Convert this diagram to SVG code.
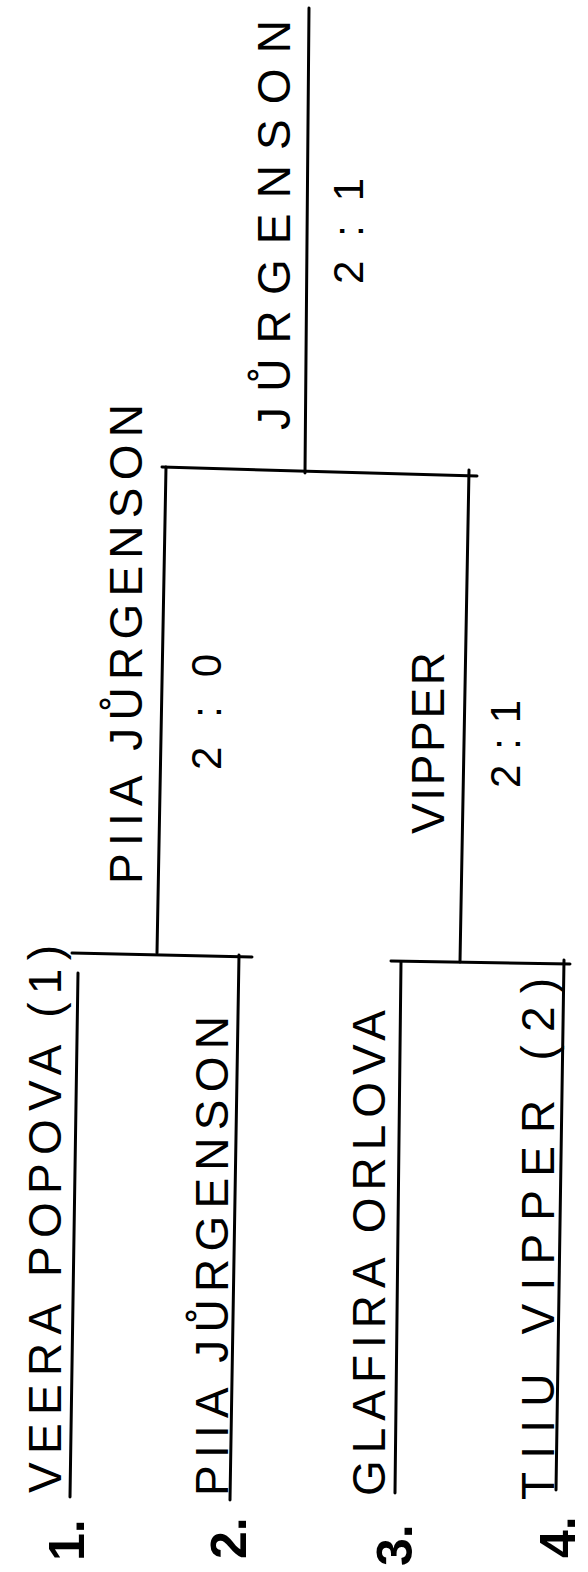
<svg xmlns="http://www.w3.org/2000/svg" width="588" height="1572" viewBox="0 0 588 1572">
<style>
.bg{fill:#ffffff}
.ln{stroke:#000;stroke-width:3;fill:none;stroke-linecap:round}
.nm{font-family:"Liberation Sans",Arial,sans-serif;font-size:46px;fill:#000}
.sc{font-family:"Liberation Sans",Arial,sans-serif;font-size:42px;fill:#000}
.no{font-family:"Liberation Sans",Arial,sans-serif;font-size:50px;font-weight:bold;fill:#000}
</style>
<rect class="bg" x="0" y="0" width="588" height="1572"/>
<g id="connectors">
  <path class="ln" d="M78,973 L70,1497"/>
  <path class="ln" d="M239,955 L230,1500"/>
  <path class="ln" d="M72,953 L252,957"/>
  <path class="ln" d="M401,962 L395,1493"/>
  <path class="ln" d="M564,960 L556,1490"/>
  <path class="ln" d="M391,961 L570,964"/>
  <path class="ln" d="M166,467 L157,953"/>
  <path class="ln" d="M469,470 L460,962"/>
  <path class="ln" d="M162,467 L477,476"/>
  <path class="ln" d="M309,8 L305,473"/>
</g>
<g id="seed1">
  <text class="nm" transform="translate(61,1493) rotate(-90)" textLength="548" lengthAdjust="spacing">VEERA POPOVA (1)</text>
  <text class="no" transform="translate(84,1561) rotate(-90)">1.</text>
</g>
<g id="seed2">
  <text class="nm" transform="translate(228,1496) rotate(-90)" textLength="480" lengthAdjust="spacing">PIIA JŮRGENSON</text>
  <text class="no" transform="translate(246,1559) rotate(-90)">2.</text>
</g>
<g id="seed3">
  <text class="nm" transform="translate(385,1496) rotate(-90)" textLength="486" lengthAdjust="spacing">GLAFIRA ORLOVA</text>
  <text class="no" transform="translate(412,1566) rotate(-90)">3.</text>
</g>
<g id="seed4">
  <text class="nm" transform="translate(554,1500) rotate(-90)" textLength="522" lengthAdjust="spacing">TIIU VIPPER (2)</text>
  <text class="no" transform="translate(575,1558) rotate(-90)">4.</text>
</g>
<g id="semi1">
  <text class="nm" transform="translate(142,884) rotate(-90)" textLength="480" lengthAdjust="spacing">PIIA JŮRGENSON</text>
  <text class="sc" transform="translate(221,770) rotate(-90)" textLength="116" lengthAdjust="spacing">2:0</text>
</g>
<g id="semi2">
  <text class="nm" transform="translate(444,834) rotate(-90)" textLength="182" lengthAdjust="spacing">VIPPER</text>
  <text class="sc" transform="translate(520,788) rotate(-90)" textLength="88" lengthAdjust="spacing">2:1</text>
</g>
<g id="final">
  <text class="nm" transform="translate(290,430) rotate(-90)" textLength="410" lengthAdjust="spacing">JŮRGENSON</text>
  <text class="sc" transform="translate(363,284) rotate(-90)" textLength="106" lengthAdjust="spacing">2:1</text>
</g>
</svg>
